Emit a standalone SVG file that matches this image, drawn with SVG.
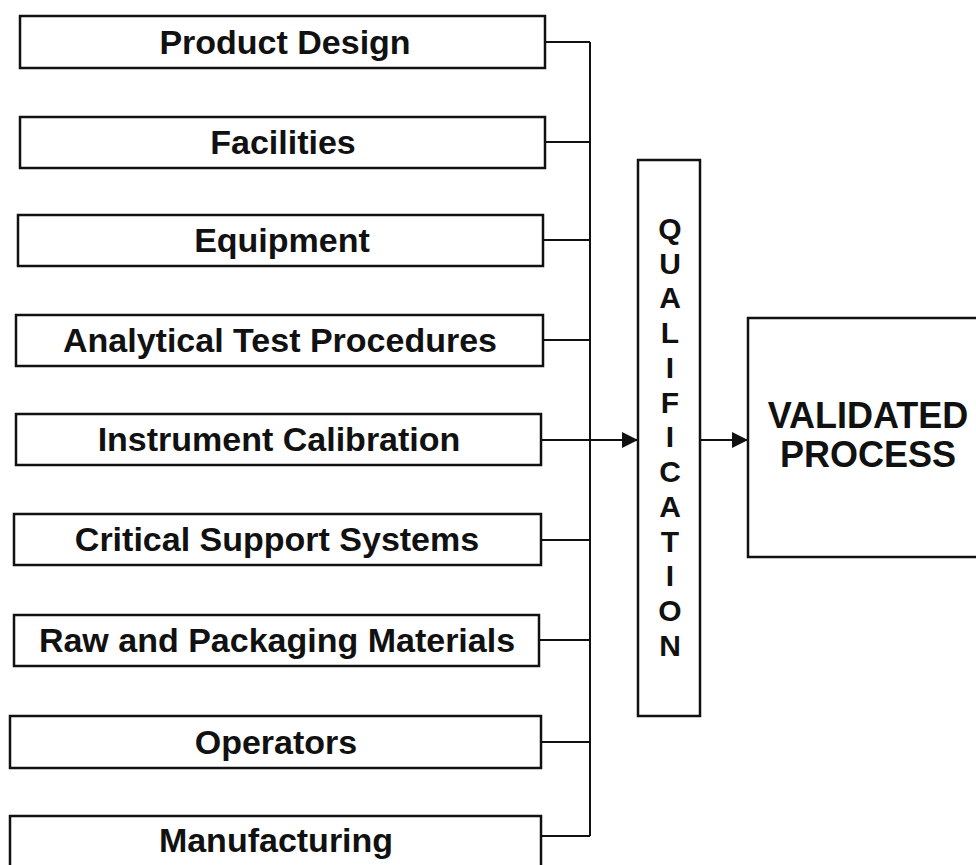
<svg xmlns="http://www.w3.org/2000/svg" width="976" height="865" viewBox="0 0 976 865">
<style>
.box{fill:#fff;stroke:#111;stroke-width:2.5}
.lbl{font-family:"Liberation Sans",Arial,sans-serif;font-weight:bold;font-size:34px;fill:#111;text-anchor:middle}
.big{font-family:"Liberation Sans",Arial,sans-serif;font-weight:bold;font-size:36px;fill:#111;text-anchor:middle}
.q{font-family:"Liberation Sans",Arial,sans-serif;font-weight:bold;font-size:30px;fill:#111;text-anchor:middle}
.ln{fill:none;stroke:#111;stroke-width:2}
</style>
<defs>
<marker id="ah" viewBox="0 0 10 10" refX="10" refY="5" markerWidth="24" markerHeight="16" markerUnits="userSpaceOnUse" orient="auto"><path d="M0,0 L10,5 L0,10 Z" fill="#111"/></marker>
</defs>
<rect width="976" height="865" fill="#fff"/>
<g id="connectors">
<path class="ln" d="M590,42 V836"/>
<path class="ln" d="M545,42 H590 M545,142 H590 M543,240 H590 M543,340 H590 M541,540 H590 M539,640 H590 M541,742 H590 M541,836 H590"/>
<path class="ln" d="M541,440 H638" marker-end="url(#ah)"/>
<path class="ln" d="M700,440 H748" marker-end="url(#ah)"/>
</g>
<g id="n1"><rect class="box" x="20" y="16" width="525" height="52"/><text class="lbl" x="285" y="54">Product Design</text></g>
<g id="n2"><rect class="box" x="20" y="117" width="525" height="51"/><text class="lbl" x="283" y="154">Facilities</text></g>
<g id="n3"><rect class="box" x="18" y="215" width="525" height="51"/><text class="lbl" x="282" y="252">Equipment</text></g>
<g id="n4"><rect class="box" x="16" y="315" width="527" height="51"/><text class="lbl" x="280" y="352">Analytical Test Procedures</text></g>
<g id="n5"><rect class="box" x="16" y="414" width="525" height="51"/><text class="lbl" x="279" y="451">Instrument Calibration</text></g>
<g id="n6"><rect class="box" x="14" y="514" width="527" height="51"/><text class="lbl" x="277" y="551">Critical Support Systems</text></g>
<g id="n7"><rect class="box" x="14" y="615" width="525" height="51"/><text class="lbl" x="277" y="652">Raw and Packaging Materials</text></g>
<g id="n8"><rect class="box" x="10" y="716" width="531" height="52"/><text class="lbl" x="276" y="754">Operators</text></g>
<g id="n9"><rect class="box" x="10" y="816" width="531" height="52"/><text class="lbl" x="276" y="852">Manufacturing</text></g>
<g id="qualification"><rect class="box" x="638" y="160" width="62" height="556"/>
<text class="q" x="670" y="239">Q</text><text class="q" x="670" y="274">U</text><text class="q" x="670" y="308">A</text><text class="q" x="670" y="343">L</text><text class="q" x="670" y="378">I</text><text class="q" x="670" y="413">F</text><text class="q" x="670" y="447">I</text><text class="q" x="670" y="482">C</text><text class="q" x="670" y="517">A</text><text class="q" x="670" y="552">T</text><text class="q" x="670" y="586">I</text><text class="q" x="670" y="621">O</text><text class="q" x="670" y="656">N</text>
</g>
<g id="validated"><rect class="box" x="748" y="318" width="240" height="239"/><text class="big" x="868" y="428">VALIDATED</text><text class="big" x="868" y="467">PROCESS</text></g>
</svg>
